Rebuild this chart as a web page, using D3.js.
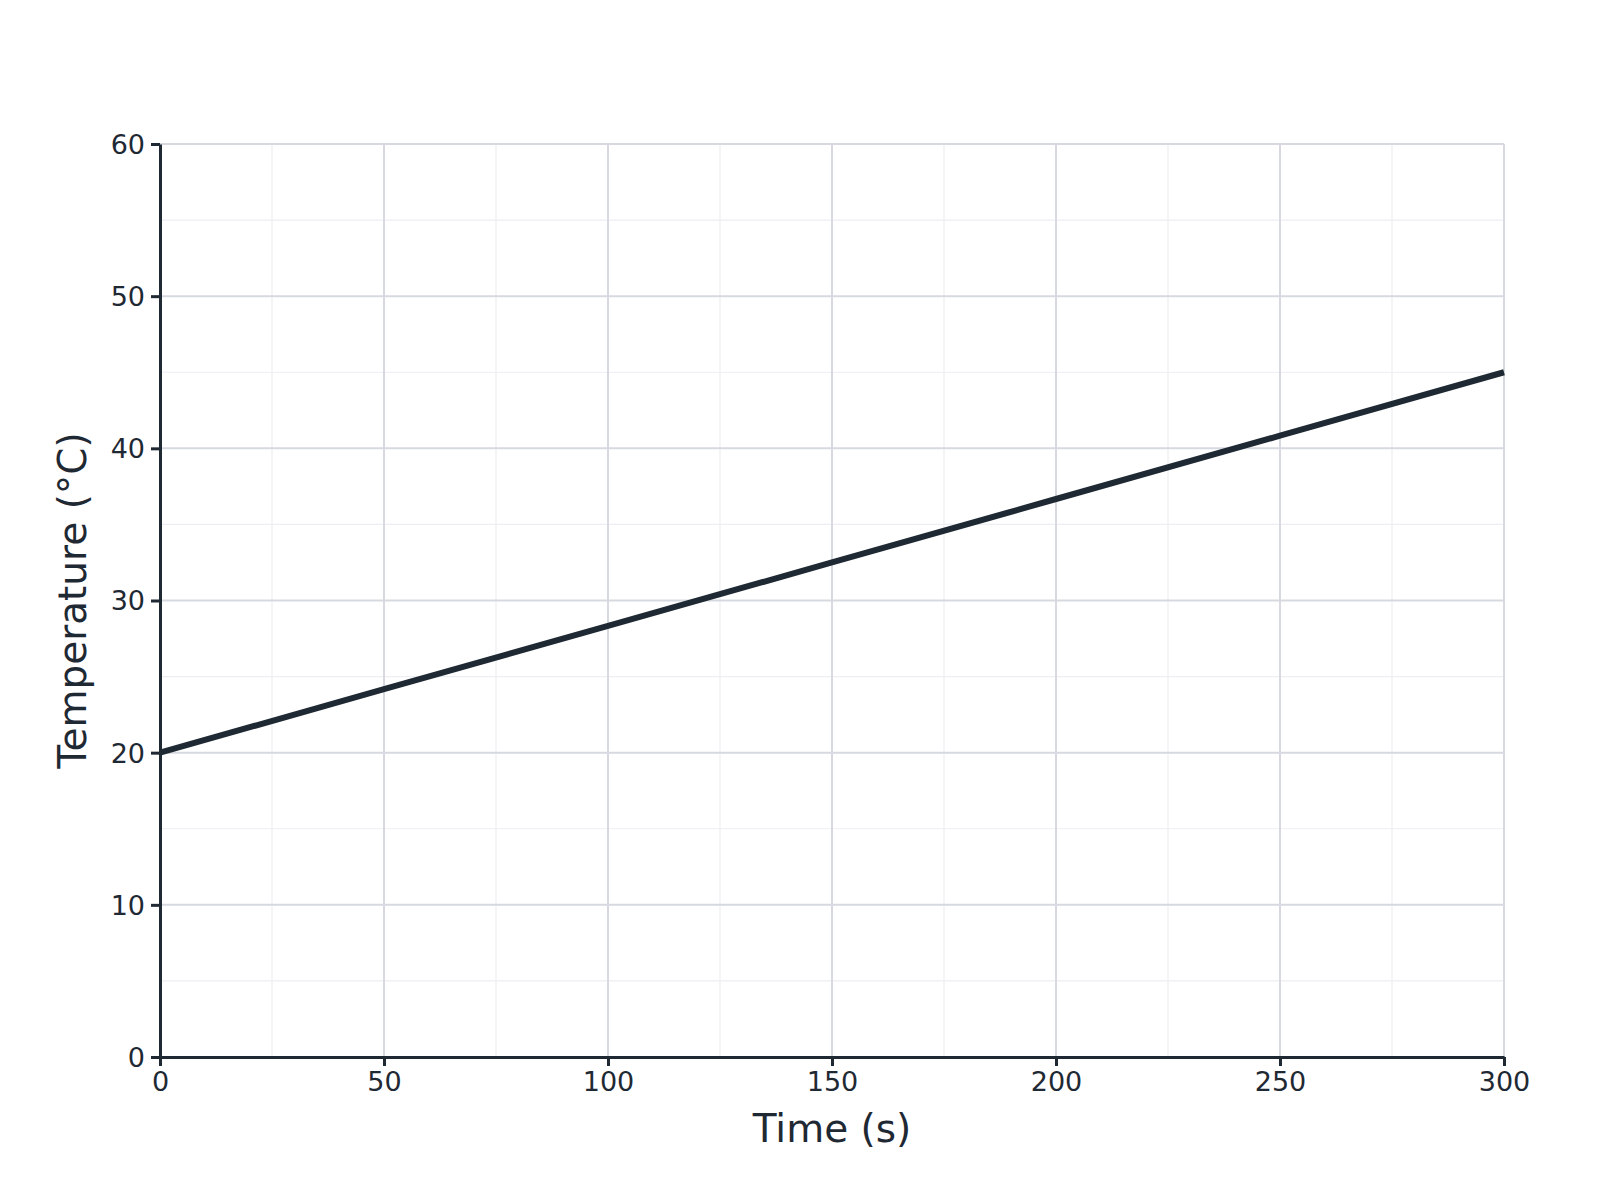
<!DOCTYPE html>
<html><head><meta charset="utf-8">
<script src="https://cdn.jsdelivr.net/npm/d3@7"></script>
<style>body{margin:0;background:#fff}svg{display:block}</style>
</head><body>
<svg id="chart" width="1600" height="1200"></svg>
<script>
const timeValues = [0, 50, 100, 150, 200, 250, 300];
const temperatureValues = [20, 24.17, 28.33, 32.5, 36.67, 40.83, 45];
const xTicks = [0, 50, 100, 150, 200, 250, 300];
const yTicks = [0, 10, 20, 30, 40, 50, 60];
const xMinor = [25, 75, 125, 175, 225, 275];
const yMinor = [5, 15, 25, 35, 45, 55];
const xTitle = "Time (s)";
const yTitle = "Temperature (°C)";

const dark = "#1f2933";
const font = "DejaVu Sans, sans-serif";
const svg = d3.select("#chart");
const m = {left:160, right:96, top:144, bottom:143};
const W = 1600 - m.left - m.right, H = 1200 - m.top - m.bottom;
const x = d3.scaleLinear().domain([0,300]).range([m.left, m.left+W]);
const y = d3.scaleLinear().domain([0,60]).range([m.top+H, m.top]);

const g = svg.append("g");
g.selectAll(".xmin").data(xMinor).join("line")
  .attr("x1",d=>x(d)).attr("x2",d=>x(d)).attr("y1",y(0)).attr("y2",y(60))
  .attr("stroke","#eceef2").attr("stroke-width",1.2);
g.selectAll(".ymin").data(yMinor).join("line")
  .attr("y1",d=>y(d)).attr("y2",d=>y(d)).attr("x1",x(0)).attr("x2",x(300))
  .attr("stroke","#eceef2").attr("stroke-width",1.2);
g.selectAll(".xmaj").data(xTicks).join("line")
  .attr("x1",d=>x(d)).attr("x2",d=>x(d)).attr("y1",y(0)).attr("y2",y(60))
  .attr("stroke","#d6d9e0").attr("stroke-width",2);
g.selectAll(".ymaj").data(yTicks).join("line")
  .attr("y1",d=>y(d)).attr("y2",d=>y(d)).attr("x1",x(0)).attr("x2",x(300))
  .attr("stroke","#d6d9e0").attr("stroke-width",2);

const line = d3.line().x((d,i)=>x(timeValues[i])).y(d=>y(d));
svg.append("path").datum(temperatureValues).attr("d",line)
  .attr("fill","none").attr("stroke",dark).attr("stroke-width",6);

const xAxis = svg.append("g").attr("transform",`translate(0,${y(0)})`)
  .call(d3.axisBottom(x).tickValues(xTicks).tickSize(9).tickPadding(6).tickSizeOuter(0));
const yAxis = svg.append("g").attr("transform",`translate(${x(0)},0)`)
  .call(d3.axisLeft(y).tickValues(yTicks).tickSize(9).tickPadding(6).tickSizeOuter(0));
[xAxis,yAxis].forEach(a=>{
  a.select(".domain").attr("stroke",dark).attr("stroke-width",3);
  a.selectAll(".tick line").attr("stroke",dark).attr("stroke-width",3);
  a.selectAll(".tick text").attr("fill",dark).style("font-family",font).style("font-size","27px");
});
yAxis.selectAll(".tick text").attr("dy","0.35em");

svg.append("text").text(xTitle).attr("x",x(150)).attr("y",1142)
  .attr("text-anchor","middle").attr("fill",dark)
  .style("font-family",font).style("font-size","39px");
svg.append("text").text(yTitle)
  .attr("transform",`translate(86,${y(30)}) rotate(-90)`)
  .attr("text-anchor","middle").attr("fill",dark)
  .style("font-family",font).style("font-size","39px");
</script>
</body></html>
